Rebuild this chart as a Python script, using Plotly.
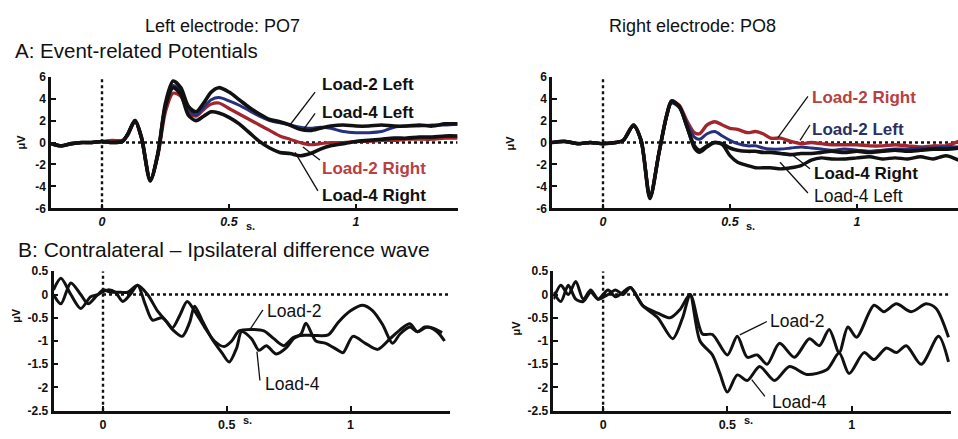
import plotly.graph_objects as go

# ---------------- data ----------------
# Panel A, left electrode PO7 (time in s, amplitude in microvolts)
t_po7 = [-0.2, -0.16, -0.12, -0.08, -0.04, 0.0, 0.04, 0.08, 0.1, 0.13, 0.155, 0.19, 0.22, 0.25,
         0.28, 0.31, 0.34, 0.37, 0.4, 0.43, 0.46, 0.5, 0.54, 0.58, 0.62, 0.66, 0.7, 0.74, 0.78,
         0.82, 0.86, 0.9, 0.95, 1.0, 1.05, 1.1, 1.15, 1.2, 1.25, 1.3, 1.35, 1.4]
po7_load4_left = [-0.1, -0.3, -0.1, 0.0, 0.0, 0.1, 0.0, 0.1, 0.7, 2.0, 0.5, -3.4, -1.0, 3.6,
                  5.6, 5.0, 3.3, 2.8, 3.6, 4.6, 5.0, 4.6, 3.9, 3.2, 2.6, 2.1, 1.9, 1.6, 1.2,
                  1.1, 1.3, 1.5, 1.6, 1.5, 1.5, 1.6, 1.5, 1.5, 1.6, 1.5, 1.7, 1.7]
po7_load2_left = [-0.1, -0.3, -0.1, 0.0, 0.0, 0.1, 0.0, 0.1, 0.7, 2.0, 0.5, -3.5, -1.0, 3.4,
                  5.2, 4.7, 3.0, 2.5, 3.2, 3.9, 4.1, 3.8, 3.4, 2.9, 2.4, 2.0, 1.8, 1.6, 1.4,
                  1.3, 1.4, 1.3, 1.0, 0.9, 0.9, 1.0, 1.4, 1.5, 1.5, 1.6, 1.6, 1.7]
po7_load2_right = [-0.1, -0.3, -0.1, 0.0, 0.0, 0.1, 0.2, 0.2, 0.6, 1.9, 0.4, -3.4, -1.2, 2.8,
                   4.5, 4.2, 2.8, 2.4, 3.0, 3.5, 3.6, 3.1, 2.6, 2.1, 1.6, 1.1, 0.6, 0.3, 0.0,
                   -0.2, -0.1, 0.0, 0.0, 0.1, 0.1, 0.2, 0.2, 0.3, 0.3, 0.3, 0.4, 0.4]
po7_load4_right = [-0.1, -0.3, -0.1, 0.0, 0.0, 0.1, 0.0, 0.1, 0.7, 2.0, 0.5, -3.5, -1.0, 3.3,
                   5.0, 4.4, 2.5, 2.0, 2.4, 2.8, 2.7, 2.3, 1.7, 0.9, 0.1, -0.5, -0.9, -1.0, -1.2,
                   -1.0, -0.6, -0.3, -0.1, 0.1, 0.2, 0.3, 0.4, 0.4, 0.5, 0.5, 0.6, 0.6]

# Panel A, right electrode PO8
t_po8 = [-0.2, -0.15, -0.1, -0.05, 0.0, 0.05, 0.08, 0.12, 0.15, 0.185, 0.22, 0.25, 0.27, 0.3,
         0.33, 0.36, 0.38, 0.41, 0.44, 0.47, 0.5, 0.53, 0.57, 0.6, 0.63, 0.66, 0.7, 0.74, 0.78,
         0.82, 0.86, 0.9, 0.95, 1.0, 1.05, 1.1, 1.15, 1.2, 1.25, 1.3, 1.35, 1.4]
po8_load2_right = [0.0, 0.1, -0.1, 0.0, -0.1, 0.0, 0.2, 1.6, 0.2, -5.0, -1.0, 2.4, 3.8, 3.4,
                   2.0, 0.9, 0.8, 1.6, 1.9, 1.6, 1.3, 1.2, 0.9, 1.0, 0.8, 0.4, 0.4, 0.1, -0.1,
                   0.0, -0.1, -0.2, -0.2, -0.2, -0.3, -0.3, -0.2, -0.3, -0.4, -0.3, -0.3, 0.1]
po8_load2_left = [0.0, 0.1, -0.1, 0.0, -0.1, 0.0, 0.2, 1.5, 0.2, -5.0, -1.0, 2.3, 3.6, 3.2,
                  1.8, 0.5, 0.3, 0.8, 1.0, 0.6, 0.2, -0.1, -0.3, -0.3, -0.5, -0.6, -0.6, -0.5,
                  -0.4, -0.5, -0.6, -0.7, -0.6, -0.7, -0.8, -0.7, -0.6, -0.6, -0.5, -0.5, -0.4, -0.4]
po8_load4_right = [0.0, 0.1, -0.1, 0.0, -0.1, 0.0, 0.2, 1.6, 0.2, -5.1, -1.0, 2.4, 3.7, 3.3,
                   1.5, -0.3, -0.7, -0.3, 0.0, -0.1, -0.5, -0.7, -0.8, -0.8, -0.9, -0.9, -1.0,
                   -1.1, -1.0, -1.0, -0.9, -0.8, -0.9, -0.8, -0.9, -0.8, -0.7, -0.8, -0.7, -0.6,
                   -0.6, -0.5]
po8_load4_left = [0.0, 0.1, -0.1, 0.0, -0.1, 0.0, 0.2, 1.5, 0.2, -5.0, -1.0, 2.4, 3.8, 3.3,
                  1.5, -0.5, -0.9, -0.4, 0.0, -0.2, -1.2, -1.8, -2.1, -2.3, -2.3, -2.3, -2.4,
                  -2.3, -2.1, -1.6, -1.4, -1.5, -1.5, -1.4, -1.3, -1.5, -1.4, -1.5, -1.3, -1.5,
                  -1.2, -1.6]

# Panel B, contralateral minus ipsilateral difference waves, PO7
t_po7_diff2 = [-0.2, -0.17, -0.13, -0.09, -0.05, -0.02, 0.0, 0.03, 0.06, 0.1, 0.14, 0.18, 0.22,
               0.26, 0.28, 0.31, 0.34, 0.37, 0.41, 0.45, 0.49, 0.52, 0.55, 0.6, 0.65, 0.69,
               0.73, 0.77, 0.8, 0.85, 0.91, 0.95, 1.0, 1.05, 1.09, 1.13, 1.17, 1.2, 1.24, 1.27,
               1.31, 1.35, 1.38]
po7_diff_load2 = [0.1, 0.35, 0.0, -0.3, -0.05, 0.0, 0.1, 0.05, 0.05, 0.05, 0.2, 0.0, -0.35,
                  -0.6, -0.72, -0.45, -0.15, -0.35, -0.7, -1.0, -1.12, -1.0, -0.78, -0.75, -0.78,
                  -0.95, -1.1, -0.92, -0.88, -0.88, -0.87, -0.6, -0.35, -0.23, -0.35, -0.65,
                  -1.05, -0.85, -0.7, -0.8, -0.7, -0.8, -1.0]
t_po7_diff4 = [-0.2, -0.17, -0.13, -0.09, -0.06, -0.02, 0.02, 0.05, 0.08, 0.11, 0.14, 0.17, 0.2,
               0.24, 0.28, 0.32, 0.35, 0.37, 0.4, 0.44, 0.48, 0.51, 0.54, 0.56, 0.6, 0.63, 0.66,
               0.7, 0.74, 0.77, 0.8, 0.82, 0.86, 0.9, 0.95, 0.97, 1.01, 1.06, 1.11, 1.16, 1.2,
               1.24, 1.27, 1.3, 1.33, 1.37]
po7_diff_load4 = [0.0, -0.2, 0.25, 0.0, -0.2, 0.0, 0.1, 0.05, -0.15, 0.0, 0.2, -0.2, -0.55,
                  -0.5, -0.75, -0.9, -0.6, -0.25, -0.55, -0.95, -1.25, -1.45, -1.15, -0.8, -0.95,
                  -1.2, -1.1, -1.28, -1.15, -0.95, -0.85, -0.62, -1.0, -1.05, -1.2, -1.25, -0.9,
                  -1.05, -1.18, -0.95, -0.76, -0.63, -0.8, -0.7, -0.72, -0.82]

# Panel B, PO8
t_po8_diff2 = [-0.2, -0.17, -0.14, -0.11, -0.08, -0.05, -0.02, 0.02, 0.05, 0.08, 0.11, 0.16,
               0.22, 0.27, 0.31, 0.35, 0.4, 0.44, 0.5, 0.54, 0.58, 0.62, 0.66, 0.71, 0.77, 0.83,
               0.87, 0.91, 0.95, 0.985, 1.02, 1.09, 1.13, 1.18, 1.24, 1.3, 1.34, 1.39]
po8_diff_load2 = [-0.1, 0.2, 0.0, 0.28, -0.1, 0.1, -0.1, 0.1, -0.05, 0.05, 0.15, -0.24, -0.4,
                  -0.5, -0.32, 0.0, -0.85, -0.86, -1.3, -0.9, -1.35, -1.3, -1.5, -1.05, -1.35,
                  -0.95, -1.1, -0.75, -1.25, -0.7, -0.92, -0.23, -0.37, -0.2, -0.37, -0.2, -0.3,
                  -0.92]
t_po8_diff4 = [-0.2, -0.17, -0.14, -0.11, -0.08, -0.05, -0.02, 0.02, 0.05, 0.08, 0.11, 0.16,
               0.22, 0.28, 0.32, 0.35, 0.39, 0.44, 0.47, 0.5, 0.54, 0.58, 0.63, 0.69, 0.75, 0.82,
               0.9, 0.95, 0.99, 1.05, 1.09, 1.14, 1.18, 1.22, 1.28, 1.35, 1.39]
po8_diff_load4 = [0.05, -0.15, 0.2, -0.1, -0.15, 0.05, -0.1, 0.0, 0.1, 0.0, 0.15, -0.24, -0.5,
                  -0.95, -0.5, 0.0, -1.0, -1.3, -1.7, -2.1, -1.73, -1.85, -1.55, -1.85, -1.55,
                  -1.72, -1.62, -1.26, -1.7, -1.25, -1.4, -1.15, -1.25, -1.1, -1.5, -0.9, -1.45]

x_ticks = [0, 0.5, 1]
x_ticktext = ["0", "0.5", "1"]
erp_ticks = [-6, -4, -2, 0, 2, 4, 6]
diff_ticks = [-2.5, -2, -1.5, -1, -0.5, 0, 0.5]
diff_ticktext = ["-2.5", "-2", "-1.5", "-1", "-0.5", "0", "0.5"]

# ---------------- styling ----------------
W, H = 958, 439
BLACK = "#111111"
RED = "#a3262c"
NAVY = "#27307a"
FONT = "Liberation Sans, Arial, sans-serif"


def px_x(p):
    return p / W


def px_y(p):
    return 1 - p / H


fig = go.Figure()


def add_curve(t, v, color, width, ax):
    fig.add_trace(go.Scatter(
        x=t, y=v, mode="lines",
        line=dict(color=color, width=width, shape="spline", smoothing=0.8),
        xaxis="x" + ax, yaxis="y" + ax, showlegend=False, hoverinfo="skip"))


# Panel A curves (coloured ones underneath, black on top)
add_curve(t_po7, po7_load2_right, RED, 3.2, "")
add_curve(t_po7, po7_load2_left, NAVY, 3.0, "")
add_curve(t_po7, po7_load4_right, BLACK, 3.6, "")
add_curve(t_po7, po7_load4_left, BLACK, 3.6, "")

add_curve(t_po8, po8_load2_right, RED, 3.4, "2")
add_curve(t_po8, po8_load2_left, NAVY, 3.0, "2")
add_curve(t_po8, po8_load4_left, BLACK, 3.4, "2")
add_curve(t_po8, po8_load4_right, BLACK, 3.6, "2")

# Panel B curves
add_curve(t_po7_diff2, po7_diff_load2, BLACK, 3.0, "3")
add_curve(t_po7_diff4, po7_diff_load4, BLACK, 3.0, "3")
add_curve(t_po8_diff2, po8_diff_load2, BLACK, 3.0, "4")
add_curve(t_po8_diff4, po8_diff_load4, BLACK, 3.0, "4")

# axis layout: (domain x in px, domain y in px, y tick values, y tick labels)
panels = {
    "": ((51.2, 457.6), (72, 208), erp_ticks, [str(v) for v in erp_ticks]),
    "2": ((552.2, 958.0), (72, 208), erp_ticks, [str(v) for v in erp_ticks]),
    "3": ((53.5, 449.5), (273, 417), diff_ticks, diff_ticktext),
    "4": ((553.4, 951.0), (273, 417), diff_ticks, diff_ticktext),
}

shapes = []
annotations = []
for ax, ((x0, x1), (ytop, ybot), yt, ytt) in panels.items():
    top = ax in ("", "2")
    yrange = [-6, 6] if top else [-2.5, 0.5]
    fig.layout["xaxis" + ax] = dict(
        domain=[px_x(x0), min(px_x(x1), 1.0)], range=[-0.2, 1.4 if ax != "2" else 1.398],
        anchor="y" + ax, showgrid=False, zeroline=False,
        showline=True, linecolor=BLACK, linewidth=2.6,
        ticks="inside", ticklen=5, tickwidth=2.2, tickcolor=BLACK,
        tickvals=x_ticks, ticktext=x_ticktext,
        tickfont=dict(family=FONT, size=12.5, color=BLACK, weight="bold",
                      style="italic" if top else "normal"),
    )
    fig.layout["yaxis" + ax] = dict(
        domain=[px_y(ybot), px_y(ytop)], range=yrange,
        anchor="x" + ax, showgrid=False, zeroline=False,
        showline=True, linecolor=BLACK, linewidth=2.6,
        ticks="inside", ticklen=5, tickwidth=2.2, tickcolor=BLACK,
        tickvals=yt, ticktext=ytt,
        tickfont=dict(family=FONT, size=12, color=BLACK, weight="bold"),
    )
    # dotted zero reference and stimulus onset
    shapes.append(dict(type="line", xref="x" + ax, yref="y" + ax, x0=0, x1=1.4, y0=0, y1=0,
                       line=dict(color=BLACK, width=2.4, dash="dot"), layer="below"))
    shapes.append(dict(type="line", xref="x" + ax, yref="y" + ax, x0=0, x1=0,
                       y0=yrange[0], y1=yrange[1],
                       line=dict(color=BLACK, width=2.4, dash="dot"), layer="below"))
    # seconds unit next to the 0.5 tick label
    annotations.append(dict(xref="x" + ax, yref="paper", x=0.5, y=px_y(ybot + 18),
                            xshift=21, text="s.", showarrow=False,
                            font=dict(family=FONT, size=11, color=BLACK, weight="bold")))

# microvolt axis titles
for xp, yp in [(21, 140), (510, 140), (16, 318), (516, 332)]:
    annotations.append(dict(xref="paper", yref="paper", x=px_x(xp), y=px_y(yp), text="μV",
                            xanchor="center", yanchor="middle", textangle=-90,
                            showarrow=False,
                            font=dict(family=FONT, size=11, color=BLACK, weight="bold")))

# headings
annotations += [
    dict(xref="paper", yref="paper", x=px_x(222), y=px_y(20), xanchor="center",
         yanchor="middle", text="Left electrode: PO7", showarrow=False,
         font=dict(family=FONT, size=18, color=BLACK)),
    dict(xref="paper", yref="paper", x=px_x(692), y=px_y(20), xanchor="center",
         yanchor="middle", text="Right electrode: PO8", showarrow=False,
         font=dict(family=FONT, size=18, color=BLACK)),
    dict(xref="paper", yref="paper", x=px_x(13), y=px_y(45), xanchor="left",
         yanchor="middle", text="A: Event-related Potentials", showarrow=False,
         font=dict(family=FONT, size=20.5, color=BLACK)),
    dict(xref="paper", yref="paper", x=px_x(16), y=px_y(251), xanchor="left",
         yanchor="middle", text="B: Contralateral \u2013 Ipsilateral difference wave",
         showarrow=False, font=dict(family=FONT, size=21, color=BLACK)),
]

# curve labels with leader lines: (axis, text, colour, bold, text pos, line start, line end)
labels = [
    ("", "Load-2 Left", BLACK, True, (0.858, 5.3), (0.839, 4.6), (0.740, 1.6)),
    ("", "Load-4 Left", BLACK, True, (0.858, 2.75), (0.839, 2.65), (0.791, 1.1)),
    ("", "Load-2 Right", "#b8403f", True, (0.858, -2.4), (0.858, -1.6), (0.791, -0.4)),
    ("", "Load-4 Right", BLACK, True, (0.858, -4.85), (0.850, -4.4), (0.760, -0.9)),
    ("2", "Load-2 Right", "#b8403f", True, (0.815, 4.15), (0.807, 4.2), (0.689, 0.45)),
    ("2", "Load-2 Left", "#283066", True, (0.815, 1.15), (0.815, 1.6), (0.776, 0.2)),
    ("2", "Load-4 Right", BLACK, True, (0.823, -2.85), (0.815, -2.4), (0.744, -1.1)),
    ("2", "Load-4 Left", BLACK, False, (0.823, -4.85), (0.807, -4.6), (0.697, -1.8)),
    ("3", "Load-2", BLACK, False, (0.655, -0.36), (0.646, -0.33), (0.594, -0.75)),
    ("3", "Load-4", BLACK, False, (0.646, -1.92), (0.634, -1.85), (0.622, -1.23)),
    ("4", "Load-2", BLACK, False, (0.663, -0.58), (0.659, -0.58), (0.550, -0.87)),
    ("4", "Load-4", BLACK, False, (0.671, -2.31), (0.651, -2.19), (0.598, -1.83)),
]
for ax, text, col, bold, (tx, ty), (lx0, ly0), (lx1, ly1) in labels:
    annotations.append(dict(xref="x" + ax, yref="y" + ax, x=tx, y=ty, xanchor="left",
                            yanchor="middle", text=text, showarrow=False,
                            font=dict(family=FONT, size=17 if bold else 17.5, color=col,
                                      weight="bold" if bold else "normal")))
    shapes.append(dict(type="line", xref="x" + ax, yref="y" + ax, x0=lx0, y0=ly0, x1=lx1,
                       y1=ly1, line=dict(color=BLACK, width=1.3)))

fig.update_layout(
    width=W, height=H, margin=dict(l=0, r=0, t=0, b=0),
    paper_bgcolor="white", plot_bgcolor="rgba(0,0,0,0)",
    shapes=shapes, annotations=annotations, showlegend=False,
)

fig.write_html("out.html")
